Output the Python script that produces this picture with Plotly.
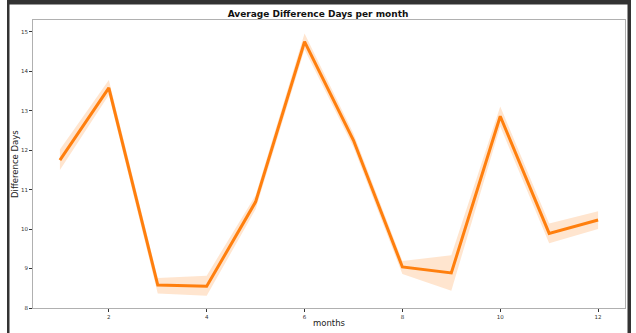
import plotly.graph_objects as go

# Mean difference in days per month, with the confidence band around it
months = [1, 2, 3, 4, 5, 6, 7, 8, 9, 10, 11, 12]
mean_days = [11.75, 13.58, 8.58, 8.55, 10.69, 14.75, 12.25, 9.04, 8.89, 12.86, 9.89, 10.23]
ci_upper = [12.02, 13.78, 8.76, 8.82, 10.86, 14.96, 12.42, 9.19, 9.34, 13.11, 10.14, 10.45]
ci_lower = [11.50, 13.40, 8.37, 8.31, 10.50, 14.55, 12.08, 8.86, 8.44, 12.60, 9.64, 10.00]

x_ticks = [2, 4, 6, 8, 10, 12]
y_ticks = [8, 9, 10, 11, 12, 13, 14, 15]

W, H = 636, 333
L, R, T, B = 33, 11, 20, 25
pw, ph = W - L - R, H - T - B


def px_x(p):
    return (p - L) / pw


def px_y(p):
    return (H - B - p) / ph


fig = go.Figure()

fig.add_trace(go.Scatter(
    x=months + months[::-1],
    y=ci_upper + ci_lower[::-1],
    fill="toself",
    fillcolor="rgba(255,127,14,0.2)",
    line=dict(width=0),
    hoverinfo="skip",
    showlegend=False,
))

fig.add_trace(go.Scatter(
    x=months,
    y=mean_days,
    mode="lines",
    line=dict(color="#ff7f0e", width=3),
    showlegend=False,
))

axis_common = dict(
    automargin=False,
    showgrid=False,
    zeroline=False,
    showline=True,
    mirror=True,
    linecolor="#b0b0b0",
    linewidth=1,
    ticks="outside",
    ticklen=3,
    tickwidth=0.8,
    tickcolor="#333333",
    tickfont=dict(family="DejaVu Sans", size=5.5, color="#333333"),
)

fig.update_xaxes(range=[0.45, 12.55], tickvals=x_ticks, **axis_common)
fig.update_yaxes(range=[8, 15.3], tickvals=y_ticks, **axis_common)

title_font = dict(family="DejaVu Sans", size=8.5, color="#222222")
annotations = [
    dict(text="months", xref="paper", yref="paper", x=px_x(329), y=px_y(323),
         xanchor="center", yanchor="middle", showarrow=False, font=title_font),
    dict(text="Difference Days", xref="paper", yref="paper", x=px_x(15), y=px_y(164),
         xanchor="center", yanchor="middle", textangle=-90, showarrow=False, font=title_font),
]

# Dark notebook cell frame around the figure
frame = "#333333"
shapes = [
    dict(type="rect", xref="paper", yref="paper", x0=px_x(7), x1=px_x(631), y0=px_y(0), y1=px_y(4.5),
         fillcolor=frame, line=dict(width=0), layer="above"),
    dict(type="rect", xref="paper", yref="paper", x0=px_x(7), x1=px_x(9.5), y0=px_y(0), y1=px_y(H),
         fillcolor=frame, line=dict(width=0), layer="above"),
    dict(type="rect", xref="paper", yref="paper", x0=px_x(627.5), x1=px_x(631), y0=px_y(0), y1=px_y(H),
         fillcolor=frame, line=dict(width=0), layer="above"),
]

fig.update_layout(
    width=W,
    height=H,
    margin=dict(l=L, r=R, t=T, b=B, autoexpand=False),
    paper_bgcolor="white",
    plot_bgcolor="white",
    shapes=shapes,
    annotations=annotations,
    title=dict(
        text="<b>Average Difference Days per month</b>",
        font=dict(family="DejaVu Sans", size=9, color="#111111"),
        x=0.5, xanchor="center",
        y=1 - 14 / H, yanchor="middle",
    ),
)

fig.write_html("out.html")
